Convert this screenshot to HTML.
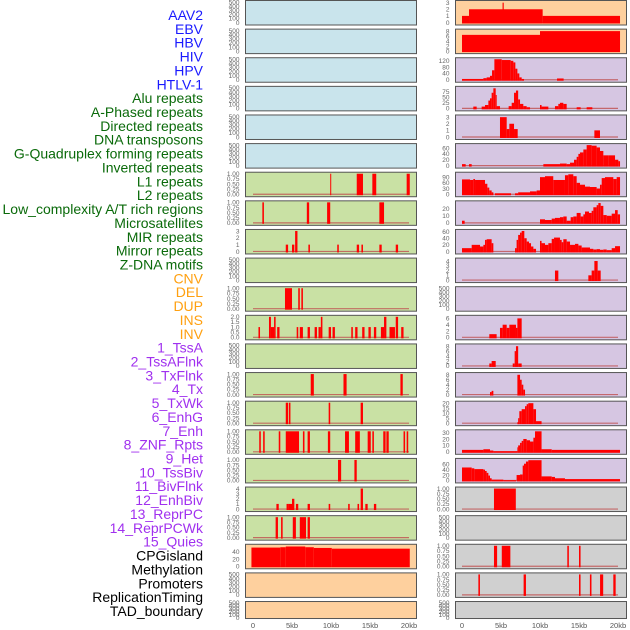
<!DOCTYPE html>
<html><head><meta charset="utf-8"><style>
html,body{margin:0;padding:0;background:#fff;width:630px;height:630px;overflow:hidden}
svg{display:block}
</style></head><body>
<svg id="chart" width="630" height="630" viewBox="0 0 630 630" xmlns="http://www.w3.org/2000/svg" font-family="Liberation Sans, sans-serif"></svg>
<script>
// ---- Data (kb start, kb end, value) ----
const trackLabels = ["AAV2","EBV","HBV","HIV","HPV","HTLV-1","Alu repeats","A-Phased repeats","Directed repeats","DNA transposons","G-Quadruplex forming repeats","Inverted repeats","L1 repeats","L2 repeats","Low_complexity A/T rich regions","Microsatellites","MIR repeats","Mirror repeats","Z-DNA motifs","CNV","DEL","DUP","INS","INV","1_TssA","2_TssAFlnk","3_TxFlnk","4_Tx","5_TxWk","6_EnhG","7_Enh","8_ZNF_Rpts","9_Het","10_TssBiv","11_BivFlnk","12_EnhBiv","13_ReprPC","14_ReprPCWk","15_Quies","CPGisland","Methylation","Promoters","ReplicationTiming","TAD_boundary"];
const labelGroups = [6,13,5,15,5];
const xTickValues = [0,5,10,15,20];
const xTickLabels = ["0","5kb","10kb","15kb","20kb"];

const ticks500 = ["0","100","200","300","400","500"];
const ticks1 = ["0.00","0.25","0.50","0.75","1.00"];

const leftL1 = [[9.9,10.0,1],[13.3,14.1,1],[15.3,15.8,1],[19.7,20.1,1]];
const leftL2 = [[1.2,1.4,1],[6.9,7.2,1],[9.5,9.9,1],[16.2,16.8,1]];
const leftLowc = [[4.2,4.5,1],[5.0,5.3,1],[5.4,5.7,3],[7.1,7.3,1],[10.8,11.0,1],[13.3,13.6,1],[13.9,14.1,1],[16.2,16.5,1],[18.3,18.6,1]];
const leftMir = [[4.1,5.0,1],[5.8,6.0,1],[6.2,6.4,1]];
const leftMirror = [[0.7,0.9,1],[2.05,2.3,2],[2.3,2.7,1],[2.7,2.9,2],[3.1,3.4,1],[5.6,5.8,1],[6.0,6.4,1],[7.0,7.3,1],[7.9,8.2,1],[8.4,8.7,1],[8.7,8.9,2],[9.7,10.0,1],[10.2,10.5,1],[12.6,12.8,1],[13.1,13.4,1],[14.0,14.3,1],[14.8,15.1,1],[15.5,15.8,1],[16.4,16.8,1],[16.8,17.1,2],[17.5,18.2,1],[18.3,18.6,2],[19.0,19.3,1]];
const leftR13 = [[7.4,7.8,1],[11.6,12.0,1],[18.9,19.2,1]];
const leftR14 = [[4.2,4.5,1],[4.6,4.8,1],[9.7,9.9,1],[13.8,14.1,1]];
const leftR15 = [[0.8,1.0,1],[1.3,1.5,1],[3.3,3.5,1],[4.2,5.9,1],[6.4,6.6,1],[7.0,7.3,1],[9.6,9.9,1],[11.8,12.3,1],[13.1,13.7,1],[14.7,15.1,1],[15.3,15.5,1],[16.7,17.0,1],[17.1,17.4,1],[19.3,19.5,1],[19.7,19.9,1]];
const leftR16 = [[10.9,11.3,1],[13.0,13.3,1]];
const leftR17 = [[3.0,3.3,1],[4.3,4.5,1],[4.5,5.0,1],[5.0,5.3,2],[5.5,5.8,1],[7.0,7.3,1],[9.7,9.9,1],[12.2,12.4,1],[13.4,13.6,1],[13.8,14.1,4],[14.4,14.7,1],[15.5,15.8,1]];
const leftR18 = [[2.9,3.2,1],[3.6,3.8,1],[5.1,5.5,1],[6.0,6.8,1],[7.0,7.3,1]];
const leftCpg = [[-0.2,3.5,52],[3.5,4.2,53],[4.2,6.7,55],[6.7,7.8,53],[7.8,10.1,51],[10.1,20.1,49]];

const rightAav2 = [[0,0.9,1],[0.9,10.34,2],[5.2,5.35,3],[10.34,20.26,1]];
const rightEbv = [[0,10.0,6.5],[10.0,20.26,8]];
const rightHiv = [[0,2.74,5],[2.74,3.16,10],[3.16,3.59,15],[3.59,3.85,25],[3.85,4.15,60],[4.15,5.09,130],[5.09,6.24,125],[6.24,6.58,120],[6.58,6.84,110],[6.84,7.1,70],[7.1,7.35,40],[7.35,7.65,15],[7.65,7.95,5],[12.18,13.03,8]];
const rightAlu = [[1.45,1.88,8],[2.52,2.95,8],[2.95,3.38,15],[3.38,3.59,35],[3.59,3.8,45],[3.8,4.02,70],[4.02,4.32,90],[4.32,4.44,60],[4.44,4.87,10],[5.98,6.37,10],[6.37,6.67,25],[6.67,6.92,70],[6.92,7.2,80],[7.2,7.44,40],[7.44,7.86,20],[7.86,8.29,10],[8.29,8.72,5],[10.0,10.2,15],[10.2,10.64,8],[10.64,11.07,8],[11.92,12.35,10],[12.35,12.56,20],[12.56,12.99,25],[12.99,13.42,20],[14.7,15.21,5],[15.98,16.71,5]];
const rightR4 = [[4.87,5.73,3],[5.73,6.07,1.2],[6.07,6.67,2],[6.67,7.14,1.2],[16.97,17.69,1]];
const rightR5 = [[0,0.47,5],[0.9,1.24,5],[10.43,12.56,5],[12.56,13.42,7],[13.42,13.85,5],[13.85,14.36,10],[14.36,14.7,20],[14.7,14.92,30],[14.92,15.13,40],[15.13,15.56,45],[15.56,15.98,55],[15.98,16.62,70],[16.62,17.26,68],[17.26,17.69,62],[17.69,18.12,50],[18.12,18.76,35],[18.76,19.62,35],[19.62,20.04,20],[20.04,20.26,15]];
const rightR6 = [[0,1.03,78],[1.03,1.45,75],[1.45,1.67,80],[1.67,2.95,75],[2.95,3.25,55],[3.25,3.5,35],[3.5,3.8,20],[3.8,4.02,10],[4.23,6.28,5],[6.8,7.2,5],[7.2,8.72,10],[8.72,9.57,15],[9.57,10.0,20],[10.0,10.64,90],[10.64,11.7,95],[11.7,13.2,75],[13.2,13.63,100],[13.63,14.27,105],[14.27,14.7,95],[14.7,15.13,60],[15.13,15.77,50],[15.77,16.41,40],[16.41,17.26,38],[17.26,17.69,30],[17.69,17.91,50],[17.91,18.33,85],[18.33,19.4,90],[19.4,19.83,80],[19.83,20.26,90]];
const rightR7 = [[0,0.34,3],[10.0,10.64,5],[10.64,11.5,4],[11.5,11.92,6],[11.92,12.56,7],[12.56,12.99,8],[12.99,13.42,9],[13.42,13.93,3],[13.93,14.27,8],[14.27,14.7,9],[14.7,15.21,14],[15.21,15.56,9],[15.56,15.77,12],[15.77,16.28,16],[16.28,16.62,14],[16.62,16.84,17],[16.84,17.26,22],[17.26,17.48,25],[17.48,17.78,28],[17.78,18.12,24],[18.12,18.55,11],[18.55,19.19,10],[19.19,19.62,13],[19.62,19.96,18],[19.96,20.26,12]];
const rightR8 = [[0,1.24,10],[1.24,2.31,20],[2.31,2.74,15],[2.74,2.95,20],[2.95,3.16,35],[3.16,3.8,37],[3.8,4.02,25],[6.8,7.0,10],[7.0,7.2,35],[7.2,7.44,50],[7.44,7.65,57],[7.65,7.99,62],[7.99,8.29,40],[8.29,8.59,30],[8.59,8.85,25],[8.85,9.15,15],[9.15,9.49,8],[10.0,10.2,32],[10.2,10.64,25],[10.64,11.07,20],[11.07,11.5,25],[11.5,11.8,38],[11.8,12.56,42],[12.56,12.78,35],[12.78,12.99,28],[12.99,13.42,37],[13.42,13.85,30],[13.85,14.49,20],[14.49,14.92,23],[14.92,15.34,18],[15.34,16.41,12],[16.41,16.84,8],[16.84,17.26,6],[17.26,17.69,7],[17.69,18.12,5],[18.12,18.55,6],[18.55,19.19,4],[19.19,19.62,10],[19.62,20.26,16]];
const rightR9 = [[11.92,12.35,2],[16.2,16.62,1],[16.62,16.97,2],[16.97,17.39,4],[17.39,17.78,2]];
const rightR11 = [[3.5,4.44,1],[4.87,5.21,3],[5.21,5.73,4],[5.73,6.07,3],[6.07,6.92,4],[6.92,7.1,3],[7.1,7.65,6]];
const rightR12 = [[3.5,3.8,1],[3.8,4.32,2],[6.5,6.75,1],[6.75,6.92,6],[6.92,7.2,8],[7.2,7.65,1]];
const rightR13 = [[3.59,3.8,1],[3.8,4.02,1.5],[7.1,7.44,8],[7.44,7.65,6],[7.65,7.86,4],[7.86,8.08,2]];
const rightR14 = [[7.1,7.2,1],[7.2,7.35,5],[7.35,7.65,12],[7.65,8.08,14],[8.08,8.29,17],[8.29,8.5,19],[8.5,9.15,20],[9.15,9.49,14],[9.49,10.2,2]];
const rightR15 = [[0,2.74,3],[2.74,3.59,4],[3.59,4.02,2],[4.02,7.1,1],[7.1,7.2,7],[7.2,7.44,10],[7.44,7.65,14],[7.65,7.86,17],[7.86,8.29,20],[8.29,8.72,18],[8.72,9.15,16],[9.15,9.36,22],[9.36,10.2,32],[10.2,11.5,4],[11.5,20.26,3]];
const rightR16 = [[0,1.24,48],[1.24,1.58,45],[1.58,2.74,42],[2.74,2.95,40],[2.95,3.16,35],[3.16,3.38,28],[3.38,3.59,18],[3.59,3.8,8],[3.8,5.3,3],[5.3,6.92,1],[7.0,7.44,20],[7.44,7.78,22],[7.78,7.95,55],[7.95,8.2,62],[8.2,8.5,70],[8.5,10.2,75],[10.2,11.5,15],[11.5,11.92,13],[11.92,13.2,8],[13.2,20.26,5]];
const rightR17 = [[4.1,6.9,1]];
const rightR19 = [[4.1,4.5,1],[5.1,6.2,1],[13.5,13.7,1],[15.0,15.2,1]];
const rightR20 = [[2.1,2.3,1],[7.9,8.2,1],[15.0,15.2,1],[16.4,16.6,1],[17.7,18.1,1],[19.4,19.7,1]];

const leftSegs = [[],[],[],[],[],[],leftL1,leftL2,leftLowc,[],leftMir,leftMirror,[],leftR13,leftR14,leftR15,leftR16,leftR17,leftR18,leftCpg,[],[]];
const leftMax = [500,500,500,500,500,500,1,1,3,500,1,2,500,1,1,1,1,4,1,57,500,500];
const leftTicks = [ticks500,ticks500,ticks500,ticks500,ticks500,ticks500,ticks1,ticks1,["0","1","2","3"],ticks500,ticks1,["0.0","0.5","1.0","1.5","2.0"],ticks500,ticks1,ticks1,ticks1,ticks1,["0","1","2","3","4"],ticks1,["0","20","40"],ticks500,ticks500];
const leftTickStep = [100,100,100,100,100,100,0.25,0.25,1,100,0.25,0.5,100,0.25,0.25,0.25,0.25,1,0.25,20,100,100];
const leftColors = ["#c9e4ec","#c9e4ec","#c9e4ec","#c9e4ec","#c9e4ec","#c9e4ec","#c9e1a4","#c9e1a4","#c9e1a4","#c9e1a4","#c9e1a4","#c9e1a4","#c9e1a4","#c9e1a4","#c9e1a4","#c9e1a4","#c9e1a4","#c9e1a4","#c9e1a4","#fed09e","#fed09e","#fed09e"];

const rightSegs = [rightAav2,rightEbv,rightHiv,rightAlu,rightR4,rightR5,rightR6,rightR7,rightR8,rightR9,[],rightR11,rightR12,rightR13,rightR14,rightR15,rightR16,rightR17,[],rightR19,rightR20,[]];
const rightMax = [3.1,8.2,130,92,3.1,70,108,29,62,4.3,500,6.5,8.3,8.3,20.5,32,76,1,500,1,1,500];
const rightTicks = [["0","1","2","3"],["0","2","4","6","8"],["0","40","80","120"],["0","25","50","75"],["0","1","2","3"],["0","20","40","60"],["0","30","60","90"],["0","10","20"],["0","20","40","60"],["0","1","2","3","4"],ticks500,["0","2","4","6"],["0","2","4","6","8"],["0","2","4","6","8"],["0","5","10","15","20"],["0","10","20","30"],["0","20","40","60"],ticks1,ticks500,ticks1,ticks1,ticks500];
const rightTickStep = [1,2,40,25,1,20,30,10,20,1,100,2,2,2,5,10,20,0.25,100,0.25,0.25,100];
const rightColors = ["#fed09e","#fed09e","#d6c6e2","#d6c6e2","#d6c6e2","#d6c6e2","#d6c6e2","#d6c6e2","#d6c6e2","#d6c6e2","#d6c6e2","#d6c6e2","#d6c6e2","#d6c6e2","#d6c6e2","#d6c6e2","#d6c6e2","#d0d0d0","#d0d0d0","#d0d0d0","#d0d0d0","#d0d0d0"];

// ---- Drawing ----
const NS = "http://www.w3.org/2000/svg";
const svg = document.getElementById("chart");
function mk(tag, attrs, parent) {
  const e = document.createElementNS(NS, tag);
  for (const k in attrs) e.setAttribute(k, attrs[k]);
  (parent || svg).appendChild(e);
  return e;
}
const labelColors = ["#1a1aff","#0a6a0a","#ffa010","#a030ef","#000000"];
let li = 0;
labelGroups.forEach((n, g) => {
  for (let k = 0; k < n; k++, li++) {
    const t = mk("text", {x: 203, y: 15 + li * 13.86 + 5, "text-anchor": "end", "font-size": "14", fill: labelColors[g]});
    
    
    t.textContent = trackLabels[li];
  }
});

function rowTop(i) { return 0.5 + i * 28.62; }
function rowH(i) { return i === 21 ? 17 : 24.5; }

function drawColumn(side, segs, maxs, ticks, steps, colors) {
  const px0 = side === "left" ? 245.5 : 455.5;
  const pw = 171;
  const x0 = side === "left" ? 253 : 462;
  const xs = kb => x0 + kb * 7.8;
  for (let i = 0; i < 22; i++) {
    const top = rowTop(i), h = rowH(i);
    const g = mk("g", {});
    
    
    const y0 = top + h - 2.5, y1 = top + 1.5;
    const ys = v => y0 - (v / maxs[i]) * (y0 - y1);
    const bg = mk("rect", {x: px0, y: top, width: pw, height: h, fill: colors[i]}, g);
    
    
    if (segs[i].length) {
      const base = mk("line", {x1: xs(0), x2: xs(20), y1: y0, y2: y0, stroke: "#c05050", "stroke-width": 1.2, opacity: 0.8}, g);
      
      
    }
    segs[i].forEach(s => {
      const a = Math.max(s[0], -0.3), b = s[1];
      const yt = Math.max(ys(s[2]), top + 0.5);
      const r = mk("rect", {x: xs(a), y: yt, width: Math.max(xs(b) - xs(a), 1), height: y0 - yt + 1, fill: "#ff0000"}, g);
      
      
    });
    const bd = mk("rect", {x: px0, y: top, width: pw, height: h, fill: "none", stroke: "#555", "stroke-width": 1}, g);
    
    
    ticks[i].forEach((lab, k) => {
      const v = k * steps[i];
      const ty = i === 21 ? top + h - 1 - (k / (ticks[i].length - 1)) * (h - 2) : ys(v);
      const t = mk("text", {x: px0 - 6, y: ty + 2.3, "text-anchor": "end", "font-size": "6.5", fill: "#666"}, g);
      
      
      t.textContent = lab;
    });
  }
  xTickValues.forEach((v, k) => {
    const t = mk("text", {x: xs(v), y: 628, "text-anchor": "middle", "font-size": "7.5", fill: "#555"});
    
    
    t.textContent = xTickLabels[k];
  });
}
drawColumn("left", leftSegs, leftMax, leftTicks, leftTickStep, leftColors);
drawColumn("right", rightSegs, rightMax, rightTicks, rightTickStep, rightColors);
</script>
</body></html>
